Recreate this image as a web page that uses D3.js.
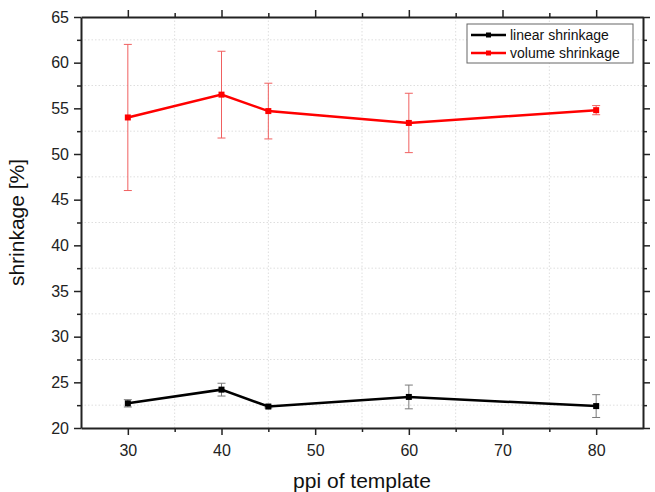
<!DOCTYPE html>
<html>
<head>
<meta charset="utf-8">
<script src="https://cdn.jsdelivr.net/npm/d3@7"></script>
<style>
  body { margin: 0; background: white; }
  text { font-family: "Liberation Sans", Arial, sans-serif; }
</style>
</head>
<body>
<div id="chart"></div>
<script>
var ppi = [30, 40, 45, 60, 80];
var linearShrinkage = [22.7, 24.2, 22.35, 23.4, 22.4];
var linearErr = [0.4, 0.7, 0.15, 1.3, 1.25];
var volumeShrinkage = [54.0, 56.5, 54.7, 53.4, 54.8];
var volumeErr = [8.0, 4.75, 3.05, 3.25, 0.5];
var xTicks = [30, 40, 50, 60, 70, 80];
var yTicks = [20, 25, 30, 35, 40, 45, 50, 55, 60, 65];

var margin = {top: 17, right: 12, bottom: 64, left: 81},
    width = 655 - margin.left - margin.right,
    height = 492 - margin.top - margin.bottom;

var xScale = d3.scaleLinear().domain([25, 85]).range([0, width]);
var yScale = d3.scaleLinear().domain([20, 65]).range([height, 0]);

var svg = d3.select("#chart").append("svg")
    .attr("width", 655)
    .attr("height", 492)
    .append("g")
    .attr("transform", "translate(" + margin.left + "," + margin.top + ")");

var xMinor = d3.range(35, 85, 10);
var yMinor = d3.range(22.5, 65, 5);

// grid at minor positions
svg.append("g").selectAll("line")
    .data(xMinor)
    .join("line")
    .attr("x1", d => xScale(d)).attr("x2", d => xScale(d))
    .attr("y1", 0).attr("y2", height)
    .attr("stroke", "#dedede").attr("stroke-width", 1)
    .attr("stroke-dasharray", "1.5,2");
svg.append("g").selectAll("line")
    .data(yMinor)
    .join("line")
    .attr("y1", d => yScale(d)).attr("y2", d => yScale(d))
    .attr("x1", 0).attr("x2", width)
    .attr("stroke", "#dedede").attr("stroke-width", 1)
    .attr("stroke-dasharray", "1.5,2");

function styleAxis(g) {
    g.select(".domain").attr("stroke", "#222").attr("stroke-width", 2);
    g.selectAll(".tick line").attr("stroke", "#222").attr("stroke-width", 1.5);
    g.selectAll("text").attr("font-size", 16).attr("fill", "#222");
}

// minor ticks
function minorTicks(axisGen, vals, transform) {
    svg.append("g")
        .attr("transform", transform)
        .call(axisGen.tickValues(vals).tickSize(4).tickFormat(""))
        .call(g => g.select(".domain").remove())
        .call(g => g.selectAll(".tick line").attr("stroke", "#222").attr("stroke-width", 1.5));
}
minorTicks(d3.axisBottom(xScale), xMinor, "translate(0," + height + ")");
minorTicks(d3.axisTop(xScale), xMinor, "translate(0,0)");
minorTicks(d3.axisLeft(yScale), yMinor, "translate(0,0)");
minorTicks(d3.axisRight(yScale), yMinor, "translate(" + width + ",0)");

svg.append("g")
    .attr("transform", "translate(0," + height + ")")
    .call(d3.axisBottom(xScale).tickValues(xTicks).tickSize(7).tickSizeOuter(0).tickPadding(10))
    .call(styleAxis);
svg.append("g")
    .call(d3.axisTop(xScale).tickValues(xTicks).tickSize(7).tickSizeOuter(0).tickFormat(""))
    .call(styleAxis);
svg.append("g")
    .call(d3.axisLeft(yScale).tickValues(yTicks).tickSize(7).tickSizeOuter(0).tickPadding(5))
    .call(styleAxis);
svg.append("g")
    .attr("transform", "translate(" + width + ",0)")
    .call(d3.axisRight(yScale).tickValues(yTicks).tickSize(7).tickSizeOuter(0).tickFormat(""))
    .call(styleAxis);

var series = [
    {name: "linear shrinkage", values: linearShrinkage, err: linearErr, color: "#000", errColor: "#7a7a7a"},
    {name: "volume shrinkage", values: volumeShrinkage, err: volumeErr, color: "#f00", errColor: "#f06060"}
];

var line = d3.line()
    .x(d => xScale(d.x))
    .y(d => yScale(d.y));

series.forEach(function(s) {
    var pts = ppi.map((x, i) => ({x: x, y: s.values[i], e: s.err[i]}));
    var eb = svg.append("g").attr("stroke", s.errColor).attr("stroke-width", 1);
    eb.selectAll(".v").data(pts).join("line")
        .attr("x1", d => xScale(d.x)).attr("x2", d => xScale(d.x))
        .attr("y1", d => yScale(d.y - d.e)).attr("y2", d => yScale(d.y + d.e));
    eb.selectAll(".t").data(pts).join("line")
        .attr("x1", d => xScale(d.x) - 4).attr("x2", d => xScale(d.x) + 4)
        .attr("y1", d => yScale(d.y + d.e)).attr("y2", d => yScale(d.y + d.e));
    eb.selectAll(".b").data(pts).join("line")
        .attr("x1", d => xScale(d.x) - 4).attr("x2", d => xScale(d.x) + 4)
        .attr("y1", d => yScale(d.y - d.e)).attr("y2", d => yScale(d.y - d.e));

    svg.append("path")
        .datum(pts)
        .attr("fill", "none")
        .attr("stroke", s.color)
        .attr("stroke-width", 2.5)
        .attr("d", line);

    svg.append("g").selectAll("rect").data(pts).join("rect")
        .attr("x", d => xScale(d.x) - 3)
        .attr("y", d => yScale(d.y) - 3)
        .attr("width", 6).attr("height", 6)
        .attr("fill", s.color);
});

// legend
var lg = svg.append("g").attr("transform", "translate(" + (467 - margin.left) + "," + (24 - margin.top) + ")");
lg.append("rect")
    .attr("width", 166).attr("height", 39)
    .attr("fill", "white").attr("stroke", "#666").attr("stroke-width", 1);
series.forEach(function(s, i) {
    var y = 11 + i * 18;
    lg.append("line").attr("x1", 4).attr("x2", 39).attr("y1", y).attr("y2", y)
        .attr("stroke", s.color).attr("stroke-width", 2.5);
    lg.append("rect").attr("x", 19).attr("y", y - 2.5).attr("width", 5).attr("height", 5).attr("fill", s.color);
    lg.append("text").attr("x", 43).attr("y", y + 5)
        .attr("font-size", 14).attr("fill", "#111").text(s.name);
});

svg.append("text")
    .attr("text-anchor", "middle")
    .attr("x", xScale(55))
    .attr("y", height + 60)
    .attr("font-size", 21)
    .attr("fill", "#111")
    .text("ppi of template");

svg.append("text")
    .attr("text-anchor", "middle")
    .attr("transform", "translate(" + (-57) + "," + yScale(42.5) + ") rotate(-90)")
    .attr("font-size", 21)
    .attr("fill", "#111")
    .text("shrinkage [%]");
</script>
</body>
</html>
